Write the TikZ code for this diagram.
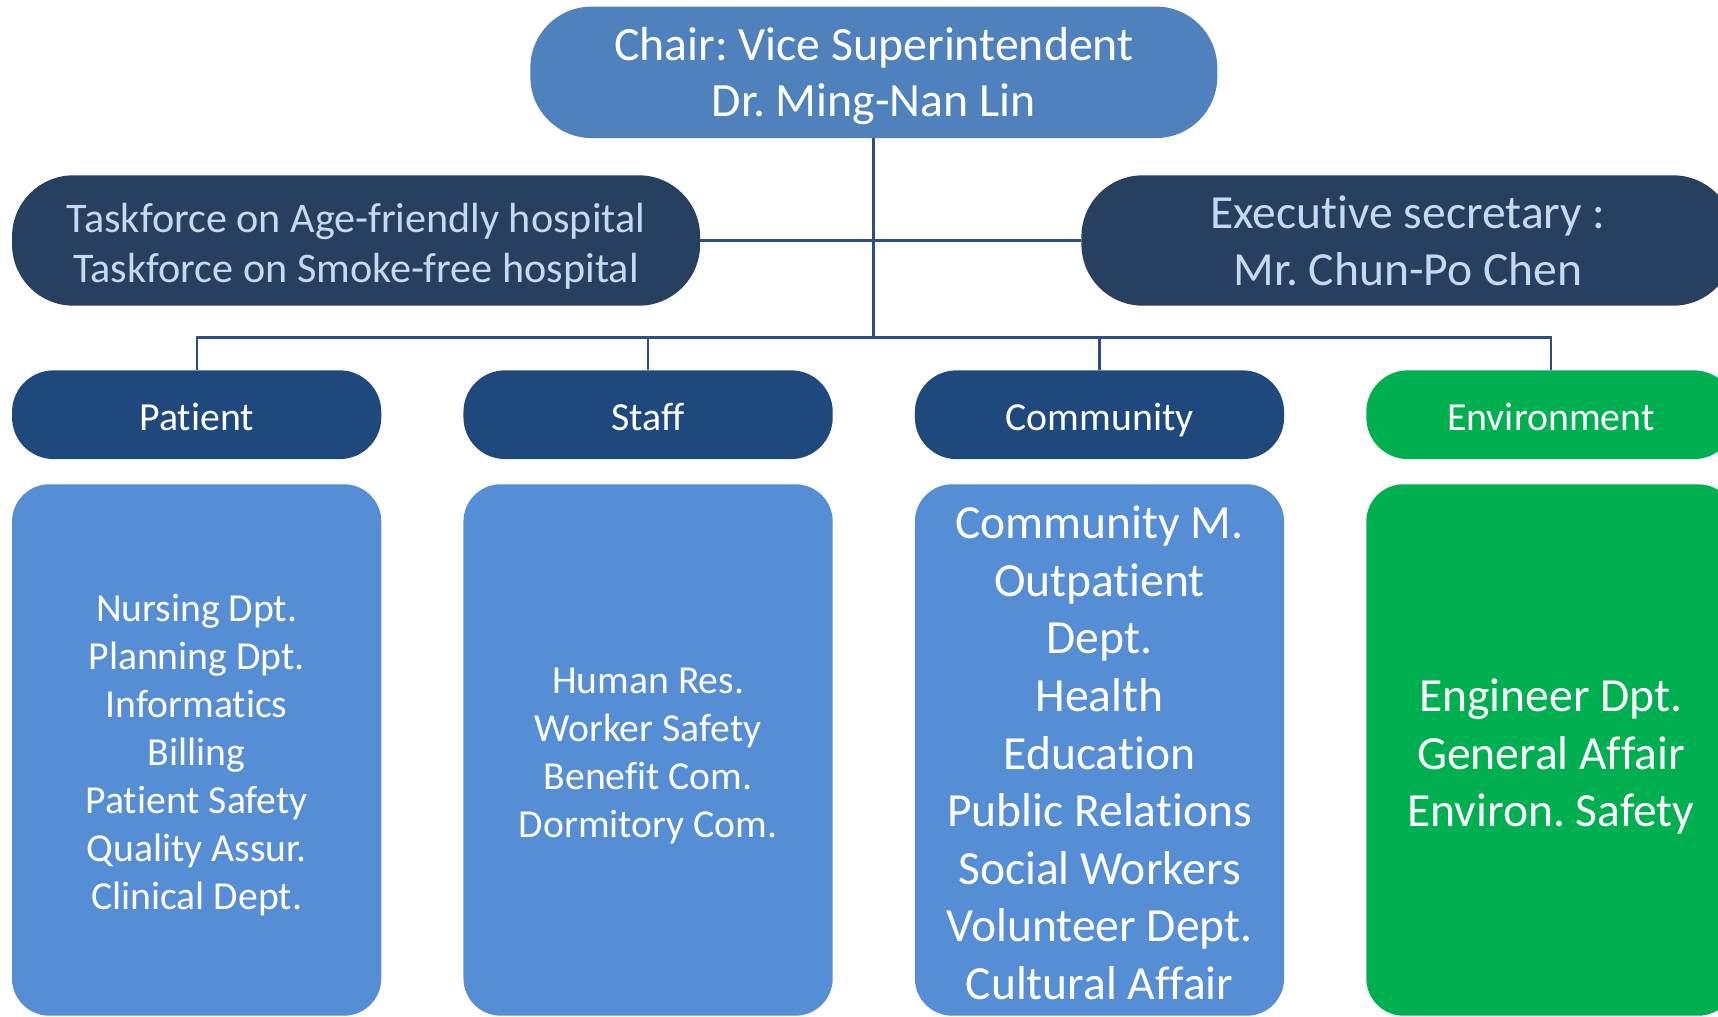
\documentclass[tikz,border=0pt]{standalone}
\usepackage{fontspec}
\setmainfont{Carlito}[Ligatures=CommonOff]
\usepackage{tikz}
\frenchspacing
\definecolor{chairblue}{HTML}{4F81BD}
\definecolor{taskdark}{HTML}{28405F}
\definecolor{tasktext}{HTML}{C6D9F1}
\definecolor{groupnavy}{HTML}{1F497D}
\definecolor{unitblue}{HTML}{558ED5}
\definecolor{envgreen}{HTML}{00B050}
\definecolor{linkblue}{HTML}{2B4F80}
\newcommand{\toprule}{\rule{0pt}{0.8em}}
\tikzset{
  box/.style={inner sep=0pt, align=center, text=white, text depth=0pt},
  chairbox/.style={box, fill=chairblue, rounded corners=56pt, minimum width=627pt, minimum height=120pt, font=\fontsize{43.6}{51}\selectfont},
  taskbox/.style={box, fill=taskdark, text=tasktext, rounded corners=56pt, minimum height=119pt},
  groupbox/.style={box, fill=groupnavy, rounded corners=38pt, minimum width=337pt, minimum height=81pt,
    text height=34.2pt, text depth=6.1pt, font=\fontsize{36.3}{43}\selectfont},
  unitbox/.style={box, fill=unitblue, rounded corners=34pt, minimum width=337pt, minimum height=485pt},
  small/.style={font=\fontsize{36.2}{43.8}\selectfont},
  large/.style={font=\fontsize{43.4}{52.6}\selectfont},
  link/.style={draw=linkblue, line width=2.6pt},
  buslink/.style={draw=linkblue, line width=2pt}
}

\begin{document}
\begin{tikzpicture}[x=1pt, y=-1pt]
\useasboundingbox (0,0) rectangle (1568,928.2);

\node[chairbox] (chair) at (797.5,66) {Chair: Vice Superintendent\\Dr. Ming-Nan Lin};
\node[taskbox, minimum width=628pt, font=\fontsize{38.5}{46}\selectfont] (task) at (325,219.5)
  {\toprule Taskforce on Age-friendly hospital\\Taskforce on Smoke-free hospital};
\node[taskbox, minimum width=596pt, font=\fontsize{43.4}{52}\selectfont] (exec) at (1285,219.5)
  {Executive secretary :\\Mr. Chun-Po Chen};

\node[groupbox] (patient) at (179.5,378.5) {Patient};
\node[groupbox] (staff) at (591.5,378.5) {Staff};
\node[groupbox] (community) at (1003.5,378.5) {Community};
\node[groupbox, fill=envgreen] (environment) at (1415.5,378.5) {Environment};

\node[unitbox, small] (patientunits) at (179.5,684.5)
  {\toprule Nursing Dpt.\\Planning Dpt.\\Informatics\\Billing\\Patient Safety\\Quality Assur.\\Clinical Dept.};
\node[unitbox, small] (staffunits) at (591.5,684.5)
  {\toprule Human Res.\\Worker Safety\\Benefit Com.\\Dormitory Com.};
\node[unitbox, large] (communityunits) at (1003.5,684.5)
  {\toprule Community M.\\Outpatient\\Dept.\\Health\\Education\\Public Relations\\Social Workers\\Volunteer Dept.\\Cultural Affair};
\node[unitbox, large, fill=envgreen] (environmentunits) at (1415.5,684.5)
  {\toprule Engineer Dpt.\\General Affair\\Environ. Safety};

\coordinate (bus) at (797.5,308);

\draw[link] (chair.south) -- (bus);
\draw[link] (task.east) -- (exec.west);
\draw[buslink] (patient.north) |- (bus) -| (environment.north);
\draw[buslink] (staff.north) |- (bus);
\draw[buslink] (community.north) |- (bus);
\end{tikzpicture}
\end{document}
